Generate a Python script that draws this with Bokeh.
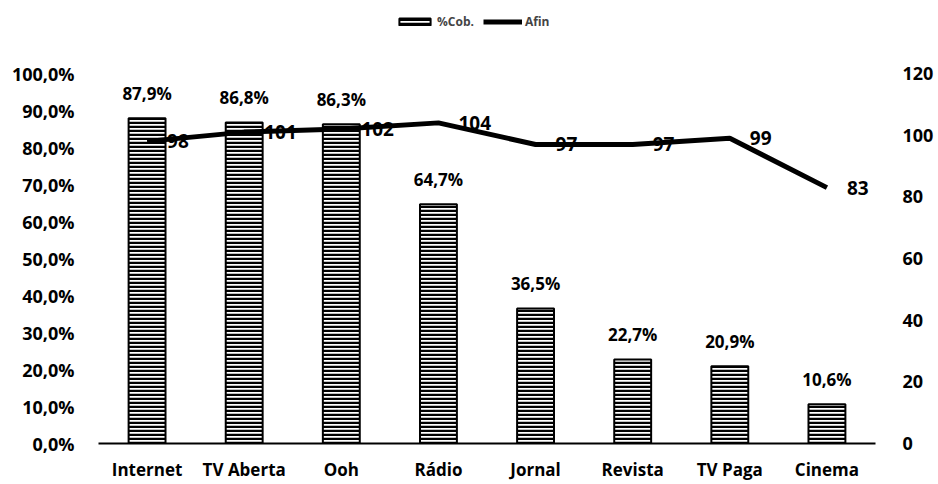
from bokeh.plotting import figure
from bokeh.models import (ColumnDataSource, FactorRange, Range1d, LinearAxis, FixedTicker,
                          Legend, LegendItem, LabelSet)
from bokeh.core.properties import value
from bokeh.embed import file_html
from bokeh.resources import INLINE

categories = ["Internet", "TV Aberta", "Ooh", "Rádio", "Jornal", "Revista", "TV Paga", "Cinema"]
cob = [87.9, 86.8, 86.3, 64.7, 36.5, 22.7, 20.9, 10.6]
afin = [98, 101, 102, 104, 97, 97, 99, 83]
left_ticks = [0, 10, 20, 30, 40, 50, 60, 70, 80, 90, 100]
right_ticks = [0, 20, 40, 60, 80, 100, 120]

FONT = "Open Sans"
FS = "17px"

src = ColumnDataSource(dict(
    cat=categories,
    cob=cob,
    afin=afin,
    cob_lbl=[("%.1f%%" % v).replace(".", ",") for v in cob],
    afin_lbl=[str(v) for v in afin],
))

# frame spans from just under the legend down to the axis; the 100% tick sits lower
left_top = 116.5
right_top = left_top * 1.2

p = figure(x_range=FactorRange(*categories, range_padding=0), y_range=Range1d(0, left_top),
           width=936, height=484, output_backend="svg", toolbar_location=None,
           min_border_left=98, min_border_right=58, min_border_top=12, min_border_bottom=41)
p.extra_y_ranges = {"afin": Range1d(0, right_top)}

bars = p.vbar(x="cat", top="cob", width=0.38, source=src,
              fill_color="white", line_color="black", line_width=2,
              hatch_pattern="horizontal_line", hatch_color="black",
              hatch_scale=4, hatch_weight=2.5)
ln = p.line(x="cat", y="afin", source=src, y_range_name="afin",
            line_color="black", line_width=5)

p.add_layout(LabelSet(x="cat", y="cob", text="cob_lbl", source=src,
                      text_align="center", text_baseline="middle", y_offset=25,
                      text_font=value(FONT), text_font_style="bold", text_font_size=value(FS),
                      text_color="black"))
p.add_layout(LabelSet(x="cat", y="afin", text="afin_lbl", source=src, y_range_name="afin",
                      text_align="left", text_baseline="middle", x_offset=20,
                      text_font=value(FONT), text_font_style="bold", text_font_size=value("19px"),
                      text_color="black"))

right = LinearAxis(y_range_name="afin", ticker=FixedTicker(ticks=right_ticks))
p.add_layout(right, "right")

p.yaxis[0].ticker = FixedTicker(ticks=left_ticks)
p.yaxis[0].major_label_overrides = {t: ("%.1f%%" % t).replace(".", ",") for t in left_ticks}

for ax in p.yaxis:
    ax.axis_line_color = None
    ax.major_tick_line_color = None
    ax.minor_tick_line_color = None
    ax.major_tick_out = 0
    ax.major_tick_in = 0
    ax.minor_tick_out = 0
    ax.minor_tick_in = 0
    ax.major_label_standoff = 27
    ax.major_label_text_font = FONT
    ax.major_label_text_font_style = "bold"
    ax.major_label_text_font_size = "18px"
    ax.major_label_text_color = "black"
p.left[0].major_label_standoff = 24

p.xaxis.axis_line_color = "black"
p.xaxis.axis_line_width = 2
p.xaxis.major_tick_line_color = None
p.xaxis.minor_tick_line_color = None
p.xaxis.major_tick_out = 0
p.xaxis.major_tick_in = 0
p.xaxis.major_label_text_font = FONT
p.xaxis.major_label_text_font_style = "bold"
p.xaxis.major_label_text_font_size = FS
p.xaxis.major_label_text_color = "black"
p.xaxis.major_label_standoff = 14

p.xgrid.grid_line_color = None
p.ygrid.grid_line_color = None
p.outline_line_color = None

legend = Legend(items=[LegendItem(label="%Cob.", renderers=[bars]),
                       LegendItem(label="Afin", renderers=[ln])],
                orientation="horizontal", location=(297, 413),
                border_line_color=None, background_fill_alpha=0,
                label_text_font=FONT, label_text_font_style="bold",
                label_text_font_size="12px", glyph_width=39, glyph_height=9,
                spacing=9, label_standoff=3, margin=0, padding=3)
p.add_layout(legend)

open("out.html", "w").write(file_html(p, INLINE))
